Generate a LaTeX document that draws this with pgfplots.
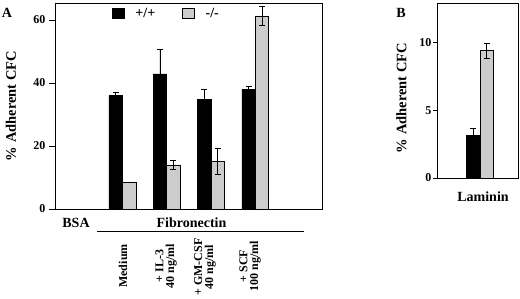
\documentclass[border=0pt]{standalone}
\usepackage{fontspec}
\setmainfont{Liberation Serif}
\usepackage{pgfplots}
\pgfplotsset{compat=1.18}
\usepackage{pgfplotstable}

\pgfplotstableread{
x y ep em
1 36.1 1.1 0
2 42.9 7.9 0
3 34.8 3.2 0
4 38.0 1.0 0
}\wtA
\pgfplotstableread{
x y ep em
1 8.5 0 0
2 14.0 1.4 1.4
3 15.2 4.2 4.2
4 61.3 2.9 2.9
}\koA
\pgfplotstableread{
x y ep em
0 3.15 0.55 0
}\wtB
\pgfplotstableread{
x y ep em
0 9.4 0.55 0.55
}\koB

\newcommand\lab{\fontsize{14}{14}\selectfont\bfseries}
\newcommand\rlab{\fontsize{12}{10.8}\selectfont\bfseries}

\pgfplotsset{
  common/.style={
    scale only axis, anchor=south west, clip=false,
    ymin=0, xtick=\empty,
    tick align=outside, ytick pos=left,
    axis line style={line width=0.8pt},
    every tick/.style={line width=0.8pt, black},
    yticklabel style={font=\fontsize{12}{12}\selectfont\bfseries},
    /pgf/number format/assume math mode=true,
    ylabel={\% Adherent CFC},
    ybar, bar width=13.5pt,
    error bars/error bar style={line width=0.6pt, black},
    error bars/error mark options={rotate=90, mark size=3pt, line width=0.6pt, black},
  },
  wt/.style={fill=black, draw=black, line width=0.5pt, bar shift=-6.75pt,
    error bars/.cd, y dir=both, y explicit},
  ko/.style={fill=gray!40, draw=black, line width=0.6pt, bar shift=6.75pt,
    error bars/.cd, y dir=both, y explicit},
}

\begin{document}
\begin{tikzpicture}
\path[use as bounding box] (0,0) rectangle (520pt,299pt);

\begin{axis}[common,
  at={(55pt,90pt)}, width=267pt, height=206pt,
  xmin=-0.524, xmax=5.507, ymax=65.4,
  ytick={0,20,40,60}, major tick length=6pt,
  every axis y label/.style={at={(axis description cs:-0.165,0.5)}, rotate=90, anchor=center, font=\fontsize{14.5}{14.5}\selectfont\bfseries},
  legend columns=2,
  legend style={at={(axis description cs:0.2135,0.949)}, anchor=west, draw=none, fill=none,
    inner sep=0pt, font=\lab, nodes={inner xsep=0pt},
    /tikz/every even column/.append style={column sep=27pt}},
  legend image code/.code={\path[draw=none, fill=none] (0pt,-4.8pt) rectangle (23pt,4.8pt);\draw[#1, bar shift=0pt] (0pt,-4.8pt) rectangle (11.5pt,4.8pt);},
]
\addplot[wt] table[x=x, y=y, y error plus=ep, y error minus=em] {\wtA};
\addlegendentry{+/+}
\addplot[ko] table[x=x, y=y, y error plus=ep, y error minus=em] {\koA};
\addlegendentry{-/-}
\end{axis}

\begin{axis}[common,
  at={(437pt,121pt)}, width=81pt, height=175pt,
  xmin=-1.06, xmax=0.94, ymax=12.9,
  ytick={0,5,10}, major tick length=4pt,
  yticklabel style={xshift=2pt},
  every axis y label/.style={at={(axis description cs:-0.44,0.457)}, rotate=90, anchor=center, font=\fontsize{14.5}{14.5}\selectfont\bfseries},
]
\addplot[wt] table[x=x, y=y, y error plus=ep, y error minus=em] {\wtB};
\addplot[ko] table[x=x, y=y, y error plus=ep, y error minus=em] {\koB};
\end{axis}

% annotations
\node[font=\lab] at (7pt,286.5pt) {A};
\node[font=\lab] at (401pt,286.5pt) {B};
\node[font=\lab, anchor=base] at (76pt,71pt) {BSA};
\node[font=\lab, anchor=base] at (191.5pt,71pt) {Fibronectin};
\draw[line width=0.8pt] (97pt,67.5pt) -- (304pt,67.5pt);
\node[font=\lab, anchor=base] at (483pt,97pt) {Laminin};
\node[font=\rlab, rotate=90, align=center] at (123pt,33pt) {Medium};
\node[font=\rlab, rotate=90, align=center] at (166pt,33pt) {+ IL-3\\40 ng/ml};
\node[font=\rlab, rotate=90, align=center] at (205pt,32pt) {+ GM-CSF\\40 ng/ml};
\node[font=\rlab, rotate=90, align=center] at (250pt,33pt) {+ SCF\\100 ng/ml};
\end{tikzpicture}
\end{document}
